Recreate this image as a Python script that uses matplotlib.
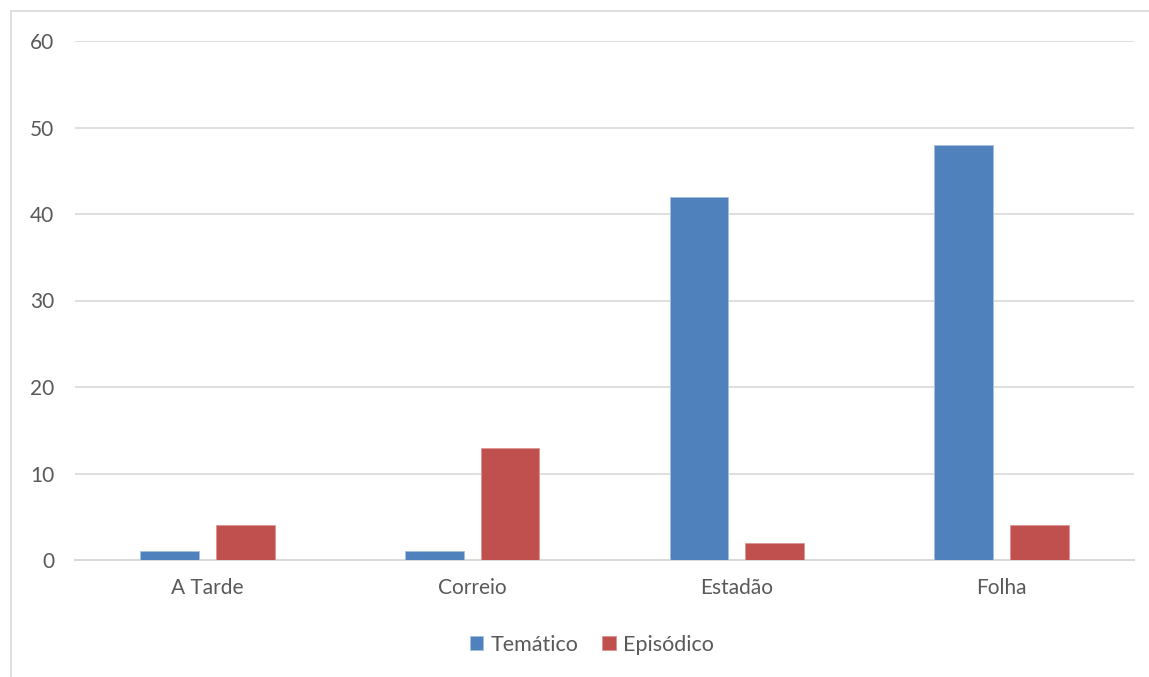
import numpy as np
import matplotlib.pyplot as plt
from matplotlib.patches import Rectangle

# Dados
jornais = ["A Tarde", "Correio", "Estadão", "Folha"]
tematico = [1, 1, 42, 48]
episodico = [4, 13, 2, 4]
yticks = [0, 10, 20, 30, 40, 50, 60]

plt.rcParams['font.family'] = ['Lato', 'DejaVu Sans']
cinza = "#595959"

fig = plt.figure(figsize=(11.49, 6.77), dpi=100)
W, H = 1149, 677

# borda do gráfico (sai pela direita e por baixo)
fig.patches.append(Rectangle((11 / W, -0.5), 1.5, 1.5 - 11 / H, transform=fig.transFigure,
                             fill=False, edgecolor="#d9d9d9", linewidth=1.2))

ax = fig.add_axes([75 / W, 1 - 560 / H, (1134 - 75) / W, (560 - 41) / H])

x = np.arange(len(jornais))
larg = 0.222
ax.bar(x - 0.143, tematico, larg, color="#4f81bd", edgecolor="#a7c0de", linewidth=0.6,
       label="Temático", zorder=3)
ax.bar(x + 0.143, episodico, larg, color="#c0504d", edgecolor="#dc9694", linewidth=0.6,
       label="Episódico", zorder=3)

ax.set_xlim(-0.5, len(jornais) - 0.5)
ax.set_ylim(0, 60)
ax.set_yticks(yticks)
ax.set_xticks(x)
ax.set_xticklabels(jornais)
ax.grid(axis="y", color="#d9d9d9", linewidth=1.2, zorder=0)
ax.tick_params(axis="both", length=0, labelsize=15, colors=cinza)
ax.tick_params(axis="y", pad=15)
ax.tick_params(axis="x", pad=13)
for s in ["top", "right", "left"]:
    ax.spines[s].set_visible(False)
ax.spines["bottom"].set_color("#d9d9d9")
ax.spines["bottom"].set_linewidth(1.5)

leg = fig.legend(loc="center", bbox_to_anchor=(592 / W, 1 - 645 / H), ncol=2, frameon=False,
                 fontsize=15.5, handlelength=0.62, handleheight=0.62, handletextpad=0.35,
                 columnspacing=1.1)
for t in leg.get_texts():
    t.set_color(cinza)

fig.savefig("out.png", dpi=100)
